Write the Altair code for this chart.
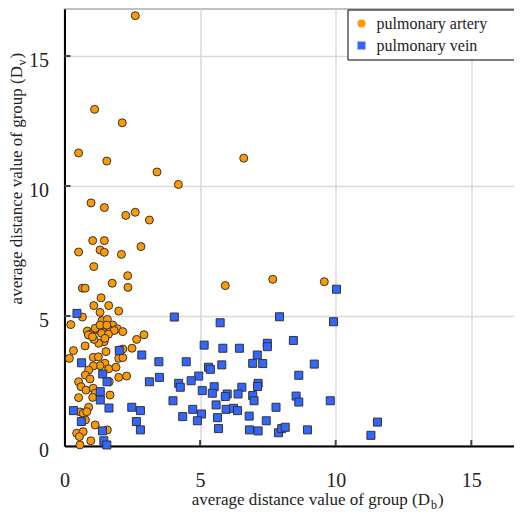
import altair as alt
import pandas as pd

# ---- data ----
series = ["pulmonary artery", "pulmonary vein"]

artery_x = [2.61, 1.11, 2.13, 0.52, 1.56, 6.61, 3.41, 4.20, 0.98, 1.47, 2.61, 2.26, 3.13,
            1.04, 1.47, 0.52, 1.31, 1.47, 2.10, 2.82, 1.08, 2.33, 1.76, 2.34, 0.66, 0.76,
            5.93, 7.68, 9.58, 1.35, 1.08, 1.63, 1.31, 2.00, 0.66, 0.23,
            1.38, 1.58, 1.78, 1.95, 2.15, 0.84, 0.97, 1.16, 1.31, 1.48, 1.68, 1.83, 1.46,
            1.26, 1.09, 0.76, 0.33, 2.66, 2.93, 2.49, 1.53, 2.02, 2.15, 2.00, 2.15, 0.18,
            1.06, 1.25, 1.49, 1.31, 1.06, 1.63, 1.90, 0.89, 0.77, 2.00, 2.29, 0.94, 0.52,
            0.61, 0.79, 1.06, 1.65, 1.13, 1.68, 1.04, 0.52, 0.89, 0.57, 0.69, 0.82, 0.77,
            1.13, 1.58, 0.45, 0.69, 0.55, 0.97, 0.57,
            1.13, 1.31, 1.56, 0.88, 1.03, 1.37, 1.62, 1.49]
artery_y = [16.55, 12.95, 12.43, 11.27, 10.96, 11.07, 10.54, 10.06, 9.35, 9.17, 8.99, 8.87, 8.69,
            7.90, 7.90, 7.46, 7.54, 7.45, 7.37, 7.67, 6.90, 6.55, 6.26, 6.10, 6.07, 6.07,
            6.17, 6.41, 6.32, 5.70, 5.40, 5.40, 5.14, 5.19, 4.96, 4.67,
            4.82, 4.87, 4.65, 4.51, 4.40, 4.42, 4.31, 4.49, 4.41, 4.36, 4.46, 4.44, 4.01,
            3.95, 4.10, 3.85, 3.67, 4.10, 4.28, 3.76, 3.63, 3.69, 3.73, 3.37, 3.40, 3.37,
            3.41, 3.43, 3.18, 3.09, 3.08, 2.97, 3.03, 2.92, 2.73, 2.64, 2.69, 2.58, 2.47,
            2.28, 2.15, 2.22, 2.47, 2.03, 1.96, 1.87, 1.86, 1.49, 1.31, 1.26, 1.32, 1.00,
            0.81, 0.62, 0.49, 0.55, 0.36, 0.20, 0.04,
            4.53, 4.65, 4.65, 4.27, 4.20, 4.33, 4.30, 4.14]

vein_x = [0.46, 4.05, 5.74, 5.15, 5.84, 6.45, 0.63, 2.02, 2.85, 3.48, 4.49, 5.31, 5.38,
          5.80, 1.41, 1.57, 3.13, 3.50, 4.95, 4.67, 4.21, 4.27, 5.52, 5.08, 5.45, 6.54,
          6.40, 6.00, 5.93, 1.32, 1.32, 4.00, 5.59, 5.96, 6.23, 6.38, 4.73, 5.05, 4.36,
          4.90, 5.64, 6.81, 5.68, 6.82, 7.14, 0.33, 0.62, 1.64, 2.48, 2.80, 2.65, 2.80,
          1.40, 1.45, 1.56, 6.94, 6.99, 6.94, 7.11, 7.14, 7.12, 7.93, 7.48, 7.48, 8.44,
          7.31, 7.80, 7.44, 7.89, 8.01, 8.14, 10.03, 9.92, 9.21, 8.64, 8.54, 8.64, 9.80,
          8.96, 11.54, 11.30]
vein_y = [5.10, 4.96, 4.74, 3.88, 3.76, 3.76, 3.20, 3.67, 3.50, 3.24, 3.24, 3.03, 2.95,
          3.12, 2.77, 2.47, 2.47, 2.64, 2.69, 2.51, 2.41, 2.26, 2.28, 2.13, 2.03, 2.26,
          2.00, 2.00, 1.90, 2.09, 1.77, 1.74, 1.58, 1.41, 1.45, 1.36, 1.41, 1.23, 1.13,
          0.97, 1.09, 1.15, 0.67, 0.62, 0.58, 1.36, 0.94, 1.46, 1.49, 1.36, 0.94, 0.62,
          0.58, 0.20, 0.04, 1.94, 1.74, 3.18, 3.50, 2.41, 2.29, 4.97, 3.95, 3.82, 4.06,
          3.17, 1.49, 0.97, 0.51, 0.67, 0.72, 6.03, 4.78, 3.15, 2.72, 1.92, 1.69, 1.74,
          0.62, 0.92, 0.41]

tick_values = [0, 5, 10, 15]
inner_ticks = [5, 10, 15]
colors = ["#ff9900", "#3366ff"]
shapes = ["circle", "square"]

x_title = "average distance value of group (D"
x_sub = "b"
y_title = "average distance value of group (D"
y_sub = "v"

# ---- layout ----
W, H = 461, 437
XMAX = 17
YMAX = 437 / 26
FONT = "Liberation Serif"

df = pd.DataFrame({
    "x": artery_x + vein_x,
    "y": artery_y + vein_y,
    "group": [series[0]] * len(artery_x) + [series[1]] * len(vein_x),
})
tdf = pd.DataFrame({"v": inner_ticks})
one = pd.DataFrame({"a": [0]})

xs = alt.Scale(domain=[0, XMAX], nice=False, zero=False)
ys = alt.Scale(domain=[0, YMAX], nice=False, zero=False)

x_axis = alt.Axis(values=tick_values, title=None, ticks=False, labelFlush=False,
                  labelPadding=24, grid=True)
y_axis = alt.Axis(values=tick_values, title=None, ticks=False, labelFlush=False,
                  labelPadding=16, labelOffset=4, grid=True)

leg = alt.Legend(
    title=None, orient="none", legendX=283, legendY=0.5, padding=6,
    strokeColor="black", fillColor="white", cornerRadius=0,
    labelFont=FONT, labelFontSize=16, labelColor="#222222",
    symbolSize=64, symbolStrokeColor="#333333", symbolStrokeWidth=1,
    rowPadding=6, labelOffset=7,
    labelExpr="datum.label + '\u2800\u2800'",
)

points = alt.Chart(df).mark_point(
    filled=True, size=64, stroke="#333333", strokeWidth=1, opacity=1
).encode(
    x=alt.X("x:Q", scale=xs, axis=x_axis),
    y=alt.Y("y:Q", scale=ys, axis=y_axis),
    fill=alt.Fill("group:N", scale=alt.Scale(domain=series, range=colors), legend=leg),
    shape=alt.Shape("group:N", scale=alt.Scale(domain=series, range=shapes), legend=leg),
)

xticks = alt.Chart(tdf).mark_rule(color="#444444", strokeWidth=2).encode(
    x=alt.X("v:Q", scale=xs, axis=x_axis), y=alt.value(H), y2=alt.value(H - 6))
yticks = alt.Chart(tdf).mark_rule(color="#444444", strokeWidth=2).encode(
    y=alt.Y("v:Q", scale=ys, axis=y_axis), x=alt.value(0), x2=alt.value(6))

txt = dict(font=FONT, color="#222222")
xt1 = alt.Chart(one).mark_text(align="right", baseline="alphabetic", fontSize=17, **txt).encode(
    x=alt.value(365.5), y=alt.value(495.5), text=alt.value(x_title))
xt2 = alt.Chart(one).mark_text(align="left", baseline="alphabetic", fontSize=12, **txt).encode(
    x=alt.value(366.5), y=alt.value(499.5), text=alt.value(x_sub))
xt3 = alt.Chart(one).mark_text(align="left", baseline="alphabetic", fontSize=17, **txt).encode(
    x=alt.value(373.5), y=alt.value(495.5), text=alt.value(")"))

yt1 = alt.Chart(one).mark_text(align="right", baseline="alphabetic", angle=270, fontSize=17, **txt).encode(
    x=alt.value(-42.5), y=alt.value(57), text=alt.value(y_title))
yt2 = alt.Chart(one).mark_text(align="left", baseline="alphabetic", angle=270, fontSize=12, **txt).encode(
    x=alt.value(-38.5), y=alt.value(56.5), text=alt.value(y_sub))
yt3 = alt.Chart(one).mark_text(align="left", baseline="alphabetic", angle=270, fontSize=17, **txt).encode(
    x=alt.value(-42.5), y=alt.value(49.5), text=alt.value(")"))

chart = alt.layer(points, xticks, yticks, xt1, xt2, xt3, yt1, yt2, yt3).properties(
    width=W, height=H,
    autosize=alt.AutoSizeParams(type="none"),
    padding={"left": 56.5, "top": 1, "right": -11.5, "bottom": 64},
).configure_view(
    stroke="#aaaaaa", strokeWidth=1.5
).configure_axis(
    labelFont=FONT, labelFontSize=20, labelColor="#222222",
    domainColor="black", domainWidth=2,
    gridColor="#d9d9d9", gridWidth=1.5,
)

chart.save("out.html", embed_options={"renderer": "svg", "actions": False})
